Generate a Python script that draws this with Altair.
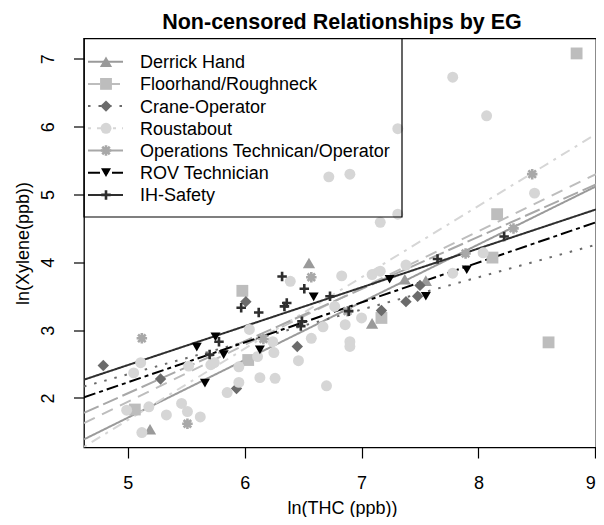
import altair as alt
import pandas as pd

# ---------------- data ----------------
groups = ["Derrick Hand", "Floorhand/Roughneck", "Crane-Operator", "Roustabout",
          "Operations Technican/Operator", "ROV Technician", "IH-Safety"]

derrick_x = [5.19, 6.55, 7.09, 7.37, 7.55]
derrick_y = [1.54, 3.99, 3.10, 3.75, 3.73]

floor_x = [5.06, 5.98, 6.03, 7.17, 8.12, 8.16, 8.60, 8.84]
floor_y = [1.83, 3.58, 2.56, 3.18, 4.07, 4.71, 2.82, 7.08]

crane_x = [4.79, 5.28, 5.93, 6.01, 6.45, 7.17, 7.38, 7.48, 7.50]
crane_y = [2.48, 2.28, 2.14, 3.42, 2.76, 3.29, 3.42, 3.50, 3.66]

roust_x = [4.99, 5.05, 5.11, 5.12, 5.18, 5.33, 5.46, 5.51, 5.52, 5.62, 5.71, 5.74,
           5.85, 5.95, 5.95, 6.04, 6.11, 6.13, 6.24, 6.25, 6.26, 6.39, 6.46, 6.57,
           6.67, 6.70, 6.72, 6.77, 6.83, 6.86, 6.90, 6.90, 6.90, 7.00, 7.09, 7.16,
           7.16, 7.31, 7.31, 7.38, 7.78, 7.78, 8.04, 8.07, 8.48]
roust_y = [1.82, 2.37, 2.52, 1.49, 1.87, 1.75, 1.92, 1.80, 2.47, 1.72, 2.49, 2.52,
           2.08, 2.46, 2.23, 3.01, 2.61, 2.30, 2.83, 2.67, 2.29, 3.72, 2.55, 2.88,
           3.05, 2.18, 5.26, 3.35, 3.80, 3.08, 2.83, 2.76, 5.30, 3.18, 3.82, 3.87,
           4.59, 4.71, 5.97, 3.96, 3.84, 6.73, 4.14, 6.16, 5.02]

ops_x = [5.12, 5.51, 6.16, 6.57, 6.88, 7.89, 8.30, 8.46]
ops_y = [2.88, 1.62, 2.87, 3.78, 3.28, 4.13, 4.50, 5.30]

rov_x = [5.59, 5.66, 5.75, 5.82, 6.13, 6.59, 7.24, 7.55, 7.90]
rov_y = [2.75, 2.22, 2.90, 2.64, 2.71, 3.49, 3.75, 3.50, 3.89]

ih_x = [5.70, 5.78, 5.97, 6.12, 6.32, 6.34, 6.36, 6.48, 6.49, 6.51, 6.73, 6.89, 7.65, 8.22]
ih_y = [2.64, 2.83, 3.33, 3.26, 3.79, 3.35, 3.40, 3.06, 3.13, 3.61, 3.50, 3.28, 4.05, 4.38]

# fitted lines: value at the left and right edge of the plot
line_x_ends = [4.625, 9.006]
line_left = [1.39, 1.63, 2.17, 1.28, 1.78, 2.01, 2.27]
line_right = [5.12, 5.30, 4.26, 5.89, 5.15, 4.59, 4.78]

x_ticks = [5, 6, 7, 8, 9]
y_ticks = [2, 3, 4, 5, 6, 7]

title_text = "Non-censored Relationships by EG"

# ---------------- styles ----------------
colors = ["#9a9a9a", "#bdbdbd", "#6b6b6b", "#d6d6d6", "#a8a8a8", "#000000", "#2e2e2e"]
ASTER = "M0,-1L0,1M-1,0L1,0M-0.72,-0.72L0.72,0.72M-0.72,0.72L0.72,-0.72"
PLUS = "M-1,0L1,0M0,-1L0,1"
shapes = ["triangle-up", "square", "diamond", "circle", ASTER, "triangle-down", PLUS]
sizes = [150, 90, 121, 75, 150, 160, 170]
dashes = [[1, 0], [12, 8], [2.5, 8], [3, 6, 10, 6], [16, 5], [12, 4, 4, 4], [1, 0]]
widths = [2, 2, 2, 2, 2, 2.6, 2.4]
filled_kind = [True, True, True, True, False, True, False]

FONT = "Liberation Sans"
W, H = 512, 409

pts = []
for g, xs, ys in zip(groups,
                     [derrick_x, floor_x, crane_x, roust_x, ops_x, rov_x, ih_x],
                     [derrick_y, floor_y, crane_y, roust_y, ops_y, rov_y, ih_y]):
    fk = filled_kind[groups.index(g)]
    for a, b in zip(xs, ys):
        pts.append({"g": g, "x": a, "y": b, "filled": fk})
pts = pd.DataFrame(pts)

lines = []
for i, g in enumerate(groups):
    lines.append({"g": g, "x": line_x_ends[0], "y": line_left[i], "o": 0})
    lines.append({"g": g, "x": line_x_ends[1], "y": line_right[i], "o": 1})
lines = pd.DataFrame(lines)

leg = pd.DataFrame({"g": groups, "i": list(range(len(groups))),
                    "filled": filled_kind})

# shared scales
col = alt.Color("g:N", scale=alt.Scale(domain=groups, range=colors), legend=None)
shp = alt.Shape("g:N", scale=alt.Scale(domain=groups, range=shapes), legend=None)
siz = alt.Size("g:N", scale=alt.Scale(domain=groups, range=sizes), legend=None)
dsh = alt.StrokeDash("g:N", scale=alt.Scale(domain=groups, range=dashes), legend=None)
swd = alt.StrokeWidth("g:N", scale=alt.Scale(domain=groups, range=widths), legend=None)

xsc = alt.Scale(domain=[4.625, 9.006], nice=False, zero=False)
ysc = alt.Scale(domain=[1.27, 7.30], nice=False, zero=False)

X = alt.X("x:Q", scale=xsc,
          axis=alt.Axis(values=x_ticks, title="ln(THC (ppb))", format="d",
                        labelPadding=16, labelBaseline="top",
                        titleX=258, titleY=65.5, titleBaseline="alphabetic",
                        titleAlign="center"))
Y = alt.Y("y:Q", scale=ysc,
          axis=alt.Axis(values=y_ticks, title="ln(Xylene(ppb))", format="d",
                        labelAngle=270, labelAlign="center",
                        labelBaseline="alphabetic", labelPadding=20,
                        titleX=-56, titleY=H / 2, titleAngle=270,
                        titleBaseline="alphabetic", titleAlign="center"))

line_layer = alt.Chart(lines).mark_line(clip=True, strokeCap="butt").encode(
    x=X, y=Y, color=col, strokeDash=dsh, strokeWidth=swd, detail="g:N",
    order="o:Q")

filled_pts = alt.Chart(pts).transform_filter("datum.filled").mark_point(
    filled=True, opacity=1, strokeWidth=0).encode(
    x=X, y=Y, color=col, shape=shp, size=siz)

stroked_pts = alt.Chart(pts).transform_filter("!datum.filled").mark_point(
    filled=False, opacity=1, strokeWidth=2.6).encode(
    x=X, y=Y, color=col, shape=shp, size=siz)

# legend drawn inside the plot (top-left box)
leg_box = alt.Chart(pd.DataFrame({"a": [0]})).mark_rect(
    fillOpacity=0, stroke="black", strokeWidth=1.2).encode(
    x=alt.value(0), x2=alt.value(318), y=alt.value(0), y2=alt.value(178.5))

leg_base = alt.Chart(leg).transform_calculate(ly="23.2 + 22.2 * datum.i")
leg_lines = leg_base.mark_rule(strokeCap="butt").encode(
    x=alt.value(4), x2=alt.value(39), y=alt.Y("ly:Q", scale=None),
    color=col, strokeDash=dsh, strokeWidth=swd)
leg_fill = leg_base.transform_filter("datum.filled").mark_point(
    filled=True, opacity=1, strokeWidth=0).encode(
    x=alt.value(22), y=alt.Y("ly:Q", scale=None), color=col, shape=shp, size=siz)
leg_str = leg_base.transform_filter("!datum.filled").mark_point(
    filled=False, opacity=1, strokeWidth=2.6).encode(
    x=alt.value(22), y=alt.Y("ly:Q", scale=None), color=col, shape=shp, size=siz)
leg_text = leg_base.mark_text(align="left", baseline="alphabetic", dy=6.4,
                              fontSize=18, font=FONT, color="black").encode(
    x=alt.value(56), y=alt.Y("ly:Q", scale=None), text="g:N")

title_layer = alt.Chart(pd.DataFrame({"t": [title_text]})).mark_text(
    align="center", baseline="alphabetic", fontSize=21.5, fontWeight="bold",
    font=FONT, color="black").encode(
    x=alt.value(258), y=alt.value(-10), text="t:N")

chart = alt.layer(
    line_layer, filled_pts, stroked_pts,
    leg_box, leg_lines, leg_fill, leg_str, leg_text, title_layer
).properties(
    width=W, height=H,
    padding={"left": 76, "top": 30.5, "right": 0, "bottom": 69.5},
    autosize=alt.AutoSizeParams(type="none"),
    background="white",
).configure_view(
    stroke="black", strokeWidth=1.3
).configure_axis(
    grid=False, domain=False, tickColor="black", tickWidth=1.2, tickSize=10.5,
    labelFont=FONT, labelFontSize=18, labelColor="black",
    titleFont=FONT, titleFontSize=18, titleFontWeight="normal", titleColor="black"
)

chart.save("out.html", embed_options={"renderer": "svg", "actions": False})
